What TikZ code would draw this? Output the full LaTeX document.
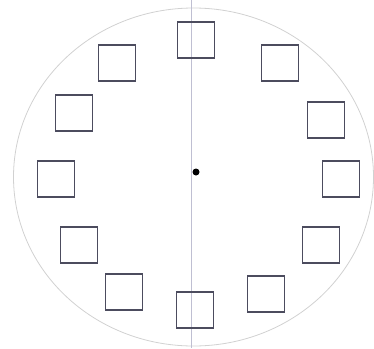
\documentclass[tikz,border=0pt]{standalone}
\begin{document}
\begin{tikzpicture}[x=1pt,y=-1pt,
  slot/.style={draw=blue!10!black!70,line width=1.2pt,minimum width=37pt,minimum height=36pt,inner sep=0pt,fill=none}]
\useasboundingbox (0,0) rectangle (374,348);
\draw[black!18,line width=0.8pt] (193.5,177) ellipse [x radius=180, y radius=169];
\coordinate (ltop) at (191,0);
\coordinate (lbot) at (191,348);
\draw[blue!30!black!25,line width=0.8pt] (ltop) -- (lbot);
\node[slot] (b12) at (196,40) {};
\node[slot] (b1) at (280,63) {};
\node[slot] (b2) at (326,120) {};
\node[slot] (b3) at (341,179) {};
\node[slot] (b4) at (321,245) {};
\node[slot] (b5) at (266,294) {};
\node[slot] (b6) at (195,310) {};
\node[slot] (b7) at (124,292) {};
\node[slot] (b8) at (79,245) {};
\node[slot] (b9) at (56,179) {};
\node[slot] (b10) at (74,113) {};
\node[slot] (b11) at (117,63) {};
\node[circle,fill=black,minimum size=7pt,inner sep=0pt] (dot) at (196,172) {};
\end{tikzpicture}
\end{document}
